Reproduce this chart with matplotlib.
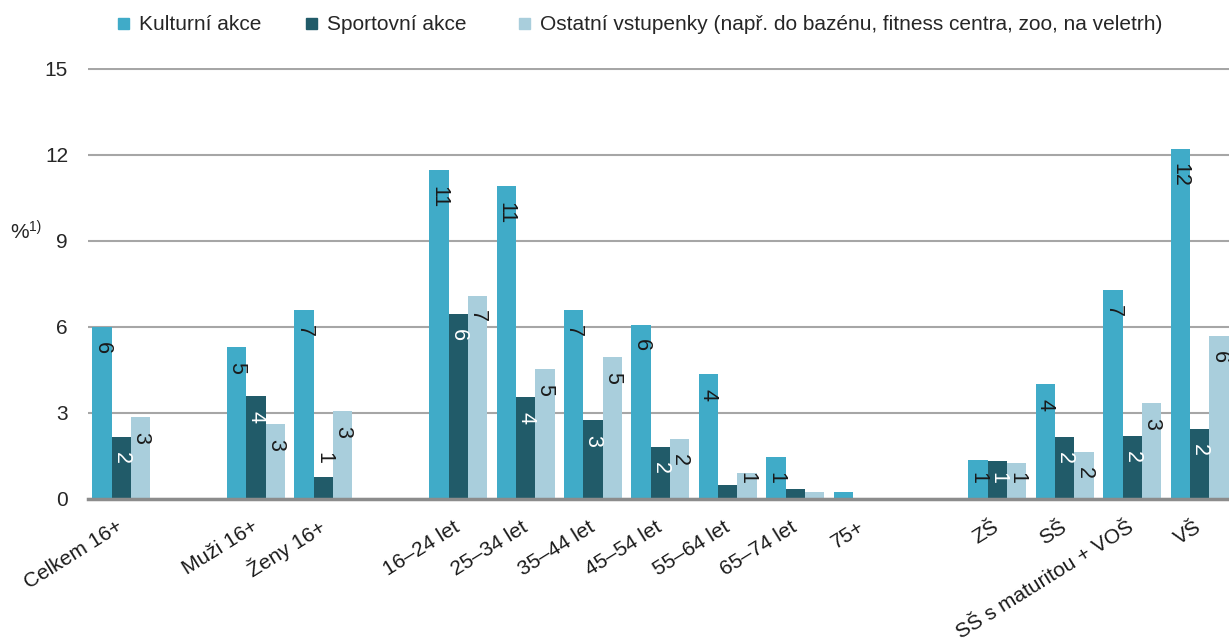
import numpy as np
import matplotlib
matplotlib.use("Agg")
import matplotlib.pyplot as plt
from matplotlib.patches import Rectangle

plt.rcParams["font.family"] = ["Liberation Sans", "DejaVu Sans"]

nan = np.nan

# categories (empty strings are the gaps between the groups)
categories = ["Celkem 16+", "", "Muži 16+", "Ženy 16+", "",
              "16–24 let", "25–34 let", "35–44 let", "45–54 let", "55–64 let", "65–74 let", "75+", "",
              "ZŠ", "SŠ", "SŠ s maturitou + VOŠ", "VŠ"]

kulturni = [6.0, nan, 5.3, 6.6, nan, 11.45, 10.9, 6.6, 6.08, 4.34, 1.45, 0.25, nan, 1.37, 4.02, 7.28, 12.2]
sportovni = [2.15, nan, 3.6, 0.77, nan, 6.46, 3.57, 2.76, 1.81, 0.48, 0.35, 0.0, nan, 1.33, 2.17, 2.2, 2.44]
ostatni = [2.85, nan, 2.6, 3.05, nan, 7.09, 4.52, 4.94, 2.09, 0.89, 0.24, 0.0, nan, 1.24, 1.65, 3.35, 5.69]

series_names = ["Kulturní akce", "Sportovní akce",
                "Ostatní vstupenky (např. do bazénu, fitness centra, zoo, na veletrh)"]
colors = ["#40abc8", "#215b69", "#a9cedc"]
label_colors = ["#1a1a1a", "white", "#1a1a1a"]
yticks = [0, 3, 6, 9, 12, 15]

W, H = 1229, 641
fig = plt.figure(figsize=(W / 100, H / 100), dpi=100)
ax = fig.add_axes([87.5 / W, (H - 499) / H, 17 * 67.4 / W, 431 / H])

x = np.arange(len(categories))
w = 0.2864
fs = 15

for k, (vals, col) in enumerate(zip([kulturni, sportovni, ostatni], colors)):
    vals = np.array(vals, dtype=float)
    xs = x + (k - 1) * w
    ax.bar(xs, np.nan_to_num(vals), width=w, color=col, zorder=2)
    for xi, v in zip(xs, vals):
        if np.isnan(v):
            continue
        lab = f"{v:.0f}"
        if lab == "0":
            continue
        tcol = label_colors[k]
        if v < 0.8:
            yc = v + 0.66
            tcol = "#1a1a1a"
        else:
            yc = v - (0.73 if len(lab) == 1 else 0.92)
            yc = max(yc, 0.75)
        ax.text(xi, yc, lab, rotation=-90, ha="center", va="center",
                fontsize=15.5, color=tcol, zorder=3)

ax.set_xlim(-0.5, len(categories) - 0.5)
ax.set_ylim(0, 15.02)
ax.set_yticks(yticks)
ax.set_yticklabels([str(t) for t in yticks], fontsize=fs, color="#262626")

tick_pos = [i for i, c in enumerate(categories) if c]
ax.set_xticks(tick_pos)
ax.set_xticklabels([categories[i] for i in tick_pos], rotation=32, ha="right",
                   va="center", rotation_mode="anchor", fontsize=fs, color="#1a1a1a")
ax.tick_params(axis="x", length=0, pad=19)
ax.tick_params(axis="y", length=0, pad=14)

ax.yaxis.grid(True, color="#a6a6a6", linewidth=1.5)
ax.set_axisbelow(True)
for s in ["top", "right", "left"]:
    ax.spines[s].set_visible(False)
ax.spines["bottom"].set_color("#8c8c8c")
ax.spines["bottom"].set_linewidth(2.5)
ax.spines["bottom"].set_zorder(4)

# y-axis unit
fig.text(10 / W, 1 - 233 / H, "%", fontsize=fs, color="#262626", va="center", ha="left")
fig.text(29 / W, 1 - 227 / H, "1)", fontsize=10, color="#262626", va="center", ha="left")

# legend
legend_x = [118, 306, 519]
for lx, name, col in zip(legend_x, series_names, colors):
    fig.add_artist(Rectangle((lx / W, 1 - 29 / H), 11 / W, 11 / H,
                             transform=fig.transFigure, color=col))
    fig.text((lx + 21) / W, 1 - 24 / H, name, fontsize=fs, color="#262626",
             va="center", ha="left")

fig.savefig("out.png", dpi=100)
